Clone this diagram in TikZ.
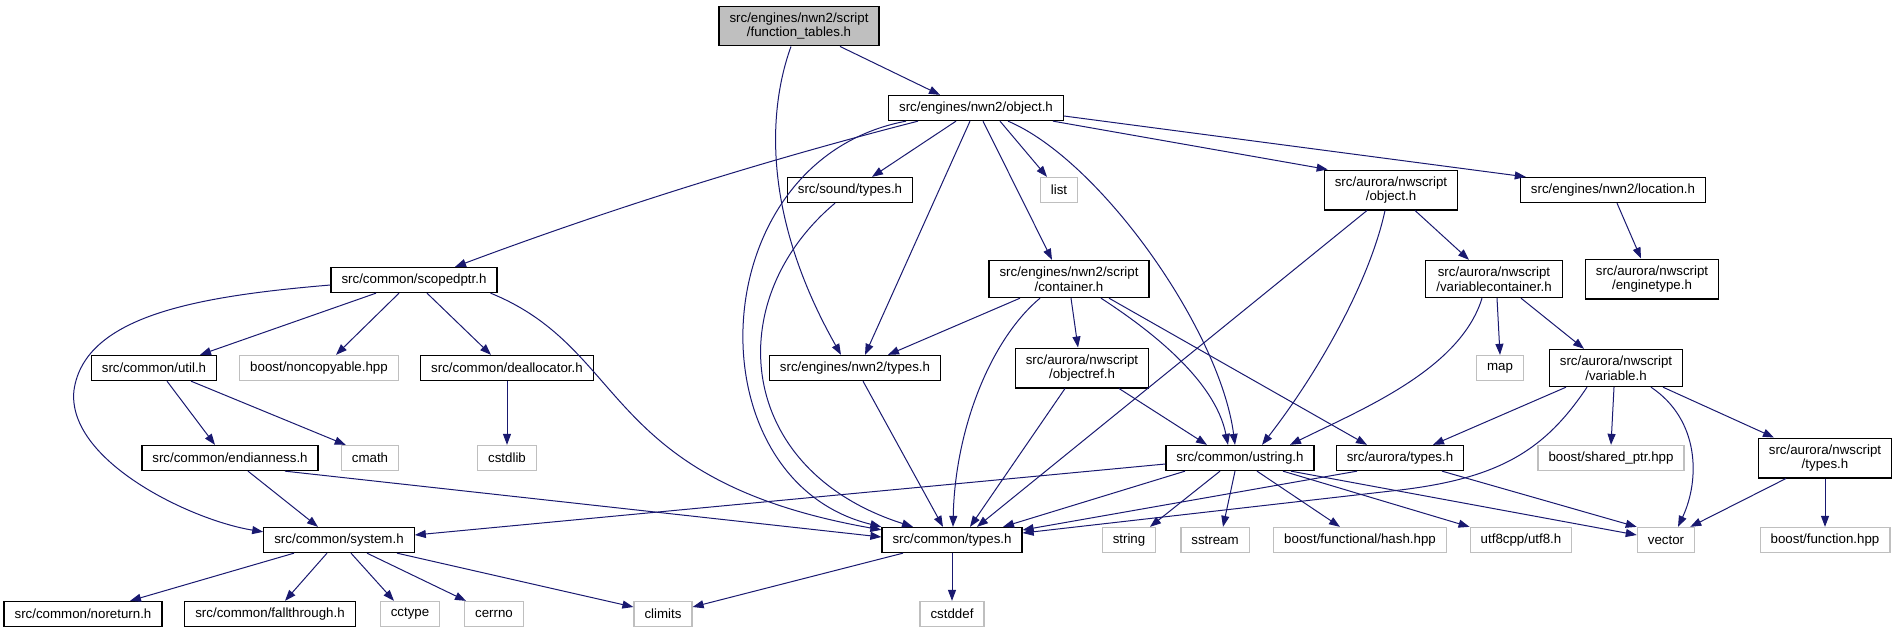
\documentclass[tikz,border=0pt]{standalone}
\usepackage{fontspec}
\setmainfont{Liberation Sans}
\usetikzlibrary{arrows.meta}
\definecolor{edgeblue}{HTML}{191970}
\definecolor{boxgray}{HTML}{BFBFBF}

\begin{document}
\begin{tikzpicture}[->, >={Triangle[length=11pt,width=8pt]}, x=1pt, y=-1pt]
\tikzstyle{every node}=[font=\fontsize{13.3}{14.7}\selectfont]
\tikzstyle{file}=[draw=black, line width=1.3pt, rectangle, align=center, inner xsep=10.5pt, inner ysep=6.3pt, minimum height=25pt, fill=white]
\tikzstyle{sysfile}=[file, draw=boxgray]
\tikzstyle{root}=[file, fill=boxgray]
\tikzstyle{dep}=[draw=edgeblue, line width=1pt]
\tikzstyle{every edge}=[dep]
\useasboundingbox (0,0) rectangle (1897,633);

% row 1
\node[root]    (ftab) at (799,26) {src/engines/nwn2/script\\/function\_tables.h};
% row 2
\node[file]    (obj) at (976,108) {src/engines/nwn2/object.h};
% row 3
\node[file]    (sound) at (850,190) {src/sound/types.h};
\node[sysfile] (lst) at (1059,190) {list};
\node[file]    (anobj) at (1391,190) {src/aurora/nwscript\\/object.h};
\node[file]    (loc) at (1613,190) {src/engines/nwn2/location.h};
% row 4
\node[file]    (scop) at (414,280) {src/common/scopedptr.h};
\node[file]    (cont) at (1069,279) {src/engines/nwn2/script\\/container.h};
\node[file]    (vcont) at (1494,279) {src/aurora/nwscript\\/variablecontainer.h};
\node[file]    (etype) at (1652,279) {src/aurora/nwscript\\/enginetype.h};
% row 5
\node[file]    (util) at (154,368) {src/common/util.h};
\node[sysfile] (noncp) at (319,368) {boost/noncopyable.hpp};
\node[file]    (dealloc) at (507,368) {src/common/deallocator.h};
\node[file]    (ntypes) at (855,368) {src/engines/nwn2/types.h};
\node[file]    (oref) at (1082,368) {src/aurora/nwscript\\/objectref.h};
\node[sysfile] (mapn) at (1500,368) {map};
\node[file]    (var) at (1616,368) {src/aurora/nwscript\\/variable.h};
% row 6
\node[file]    (endian) at (230,458) {src/common/endianness.h};
\node[sysfile] (cmath) at (370,458) {cmath};
\node[sysfile] (cstdlib) at (507,458) {cstdlib};
\node[file]    (ustr) at (1240,458) {src/common/ustring.h};
\node[file]    (atypes) at (1400,458) {src/aurora/types.h};
\node[sysfile] (shptr) at (1611,458) {boost/shared\_ptr.hpp};
\node[file]    (antypes) at (1825,458) {src/aurora/nwscript\\/types.h};
% row 7
\node[file]    (system) at (339,540) {src/common/system.h};
\node[file]    (ctypes) at (952,540) {src/common/types.h};
\node[sysfile] (string) at (1129,540) {string};
\node[sysfile] (sstream) at (1215,540) {sstream};
\node[sysfile] (hash) at (1360,540) {boost/functional/hash.hpp};
\node[sysfile] (utf) at (1521,540) {utf8cpp/utf8.h};
\node[sysfile] (vector) at (1666,540) {vector};
\node[sysfile] (bfunc) at (1825,540) {boost/function.hpp};
% row 8
\node[file]    (noret) at (83,614) {src/common/noreturn.h};
\node[file]    (fallt) at (270,614) {src/common/fallthrough.h};
\node[sysfile] (cctype) at (410,614) {cctype};
\node[sysfile] (cerrno) at (494,614) {cerrno};
\node[sysfile] (climits) at (663,614) {climits};
\node[sysfile] (cstddef) at (952,614) {cstddef};

\path
([xshift=41pt]ftab.south)   edge ([xshift=-36pt]obj.north)
([xshift=-20pt]obj.south)   edge ([xshift=22pt]sound.north)
([xshift=-6pt]obj.south)    edge ([xshift=10pt]ntypes.north)
([xshift=24pt]obj.south)    edge ([xshift=-12pt]lst.north)
([xshift=7pt]obj.south)     edge ([xshift=-17pt]cont.north)
([xshift=77pt]obj.south)    edge ([xshift=4pt]anobj.north west)
([yshift=-8pt]obj.east)     edge ([xshift=6pt]loc.north west)
([xshift=4pt]loc.south)     edge ([xshift=-11pt]etype.north)
([xshift=24pt]anobj.south)  edge ([xshift=-25pt]vcont.north)
([xshift=-24pt]anobj.south) edge ([xshift=25pt]ctypes.north)
([xshift=-38pt]scop.south)  edge ([xshift=46pt]util.north)
([xshift=-15pt]scop.south)  edge ([xshift=17pt]noncp.north)
([xshift=13pt]scop.south)   edge ([xshift=-16pt]dealloc.north)
([xshift=13pt]util.south)   edge ([xshift=-15pt]endian.north)
([xshift=37pt]util.south)   edge ([xshift=5pt]cmath.north west)
(dealloc.south)             edge (cstdlib.north)
([xshift=18pt]endian.south) edge ([xshift=-21pt]system.north)
([xshift=55pt]endian.south) edge ([yshift=3pt]ctypes.west)
([xshift=-45pt]system.south) edge ([xshift=47pt]noret.north)
([xshift=-12pt]system.south) edge ([xshift=15pt]fallt.north)
([xshift=12pt]system.south) edge ([xshift=-16pt]cctype.north)
([xshift=28pt]system.south) edge ([xshift=2pt]cerrno.north west)
([xshift=58pt]system.south) edge ([yshift=7pt]climits.west)
([xshift=-49pt]ctypes.south) edge ([yshift=7pt]climits.east)
(ctypes.south)              edge (cstddef.north)
([xshift=8pt]ntypes.south)  edge ([xshift=-9pt]ctypes.north)
([xshift=-49pt]cont.south)  edge ([xshift=33pt]ntypes.north)
([xshift=2pt]cont.south)    edge ([xshift=-4pt]oref.north)
([xshift=40pt]cont.south)   edge ([xshift=-33pt]atypes.north)
([xshift=-17pt]oref.south)  edge ([xshift=18pt]ctypes.north)
([xshift=37pt]oref.south)   edge ([xshift=-33pt]ustr.north)
([xshift=3pt]vcont.south)   edge (mapn.north)
([xshift=27pt]vcont.south)  edge ([xshift=-32pt]var.north)
([xshift=-50pt]var.south)   edge ([xshift=33pt]atypes.north)
([xshift=-2pt]var.south)    edge (shptr.north)
([xshift=47pt]var.south)    edge ([xshift=-51pt]antypes.north)
([xshift=-55pt]ustr.south)  edge ([xshift=51pt]ctypes.north)
([yshift=-6pt]ustr.west)    edge ([yshift=5pt]system.east)
([xshift=-20pt]ustr.south)  edge ([xshift=21pt]string.north)
([xshift=-5pt]ustr.south)   edge ([xshift=8pt]sstream.north)
([xshift=17pt]ustr.south)   edge ([xshift=-20pt]hash.north)
([xshift=43pt]ustr.south)   edge (utf.north west)
([xshift=51pt]ustr.south)   edge ([yshift=5pt]vector.west)
([xshift=-43pt]atypes.south) edge ([yshift=10pt]ctypes.east)
([xshift=42pt]atypes.south) edge (vector.north west)
([xshift=-39pt]antypes.south) edge ([xshift=-5pt]vector.north east)
(antypes.south)             edge (bfunc.north)
;

% curved ones
\draw[dep] ([xshift=-58pt]obj.south) .. controls (762,161) and (607,210) .. ([xshift=41pt]scop.north);
\draw[dep] ([xshift=-8pt]ftab.south) .. controls (768,110) and (762,215) .. ([xshift=-14pt]ntypes.north);
\draw[dep] ([xshift=-70pt]obj.south) .. controls (700,160) and (690,480) .. (ctypes.north west);
\draw[dep] ([xshift=-15pt]sound.south) .. controls (720,300) and (735,470) .. ([xshift=-39pt]ctypes.north);
\draw[dep] ([xshift=-7pt]scop.south east) .. controls (630,350) and (600,480) .. ([yshift=-3pt]ctypes.north west);
\draw[dep] ([yshift=-5pt]scop.west) .. controls (200,296) and (85,315) .. (74,390)
           .. controls (66,460) and (190,520) .. ([yshift=-5pt]system.north west);
\draw[dep] ([xshift=-29pt]cont.south) .. controls (990,340) and (955,430) .. ([xshift=1pt]ctypes.north);
\draw[dep] ([xshift=32pt]cont.south) .. controls (1150,330) and (1215,380) .. ([xshift=-12pt]ustr.north);
\draw[dep] ([xshift=32pt]obj.south) .. controls (1100,160) and (1220,330) .. ([xshift=-5pt]ustr.north);
\draw[dep] ([xshift=-6pt]anobj.south) .. controls (1370,280) and (1320,370) .. ([xshift=22pt]ustr.north);
\draw[dep] ([xshift=-12pt]vcont.south) .. controls (1460,370) and (1360,410) .. ([xshift=50pt]ustr.north);
\draw[dep] ([xshift=-29pt]var.south) .. controls (1545,450) and (1500,478) .. (1400,490) -- ([yshift=7pt]ctypes.east);
\draw[dep] ([xshift=35pt]var.south) .. controls (1700,420) and (1700,480) .. ([xshift=12pt]vector.north);
\end{tikzpicture}
\end{document}
